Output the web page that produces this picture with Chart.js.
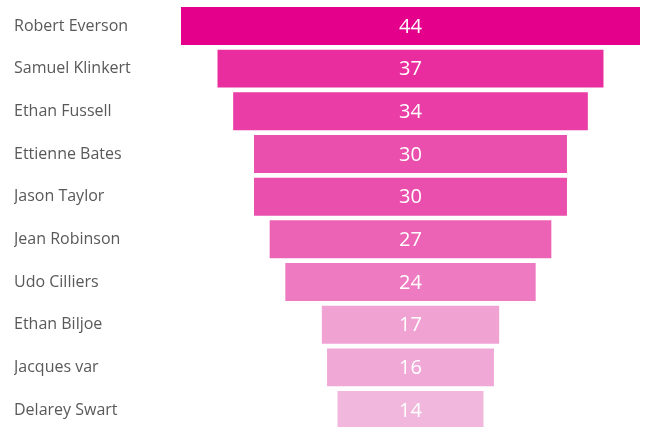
<!DOCTYPE html>
<html>
<head>
<meta charset="utf-8">
<script src="https://cdn.jsdelivr.net/npm/chart.js@4"></script>
<style>
  html, body { margin: 0; padding: 0; background: #fff; overflow: hidden; }
  #wrap { width: 645px; height: 452px; margin-top: -8px; }
</style>
</head>
<body>
<div id="wrap"><canvas id="funnel"></canvas></div>
<script>
// funnel data
var names = ['Robert Everson', 'Samuel Klinkert', 'Ethan Fussell', 'Ettienne Bates', 'Jason Taylor',
             'Jean Robinson', 'Udo Cilliers', 'Ethan Biljoe', 'Jacques var', 'Delarey Swart'];
var counts = [44, 37, 34, 30, 30, 27, 24, 17, 16, 14];
var barColors = ['#E5008C', '#E92D9F', '#EA3EA6', '#EA4FAD', '#EA4FAD',
                 '#EC63B6', '#EE7BC2', '#F0A2D3', '#F0A9D6', '#F2B7DC'];

// draws the number in the middle of each bar
var valueLabels = {
    id: 'valueLabels',
    afterDatasetsDraw: function(chart) {
        var ctx = chart.ctx;
        var meta = chart.getDatasetMeta(0);
        ctx.save();
        ctx.fillStyle = '#ffffff';
        ctx.font = '20px "Open Sans", sans-serif';
        ctx.textAlign = 'center';
        ctx.textBaseline = 'middle';
        meta.data.forEach(function(bar, i) {
            var mid = chart.scales.x.getPixelForValue(0);
            ctx.fillText(counts[i], mid, bar.y + 1);
        });
        ctx.restore();
    }
};

document.addEventListener('DOMContentLoaded', function() {
    var ctx = document.getElementById('funnel').getContext('2d');

    var data = {
        labels: names,
        datasets: [{
            // centred bars -> funnel shape
            data: counts.map(function(v) { return [-v / 2, v / 2]; }),
            backgroundColor: barColors,
            borderWidth: 0,
            barPercentage: 0.89,
            categoryPercentage: 1
        }]
    };

    var options = {
        indexAxis: 'y',
        responsive: true,
        maintainAspectRatio: false,
        animation: false,
        layout: { padding: { left: 14, right: 5, top: 4, bottom: 2 } },
        plugins: {
            legend: { display: false },
            tooltip: { enabled: false }
        },
        scales: {
            x: {
                display: false,
                min: -22,
                max: 22
            },
            y: {
                grid: { display: false },
                border: { display: false },
                ticks: {
                    crossAlign: 'far',
                    color: '#595959',
                    font: { family: '"Open Sans", sans-serif', size: 16 }
                },
                afterFit: function(axis) { axis.width = 167; }
            }
        }
    };

    new Chart(ctx, {
        type: 'bar',
        data: data,
        options: options,
        plugins: [valueLabels]
    });
});
</script>
</body>
</html>
